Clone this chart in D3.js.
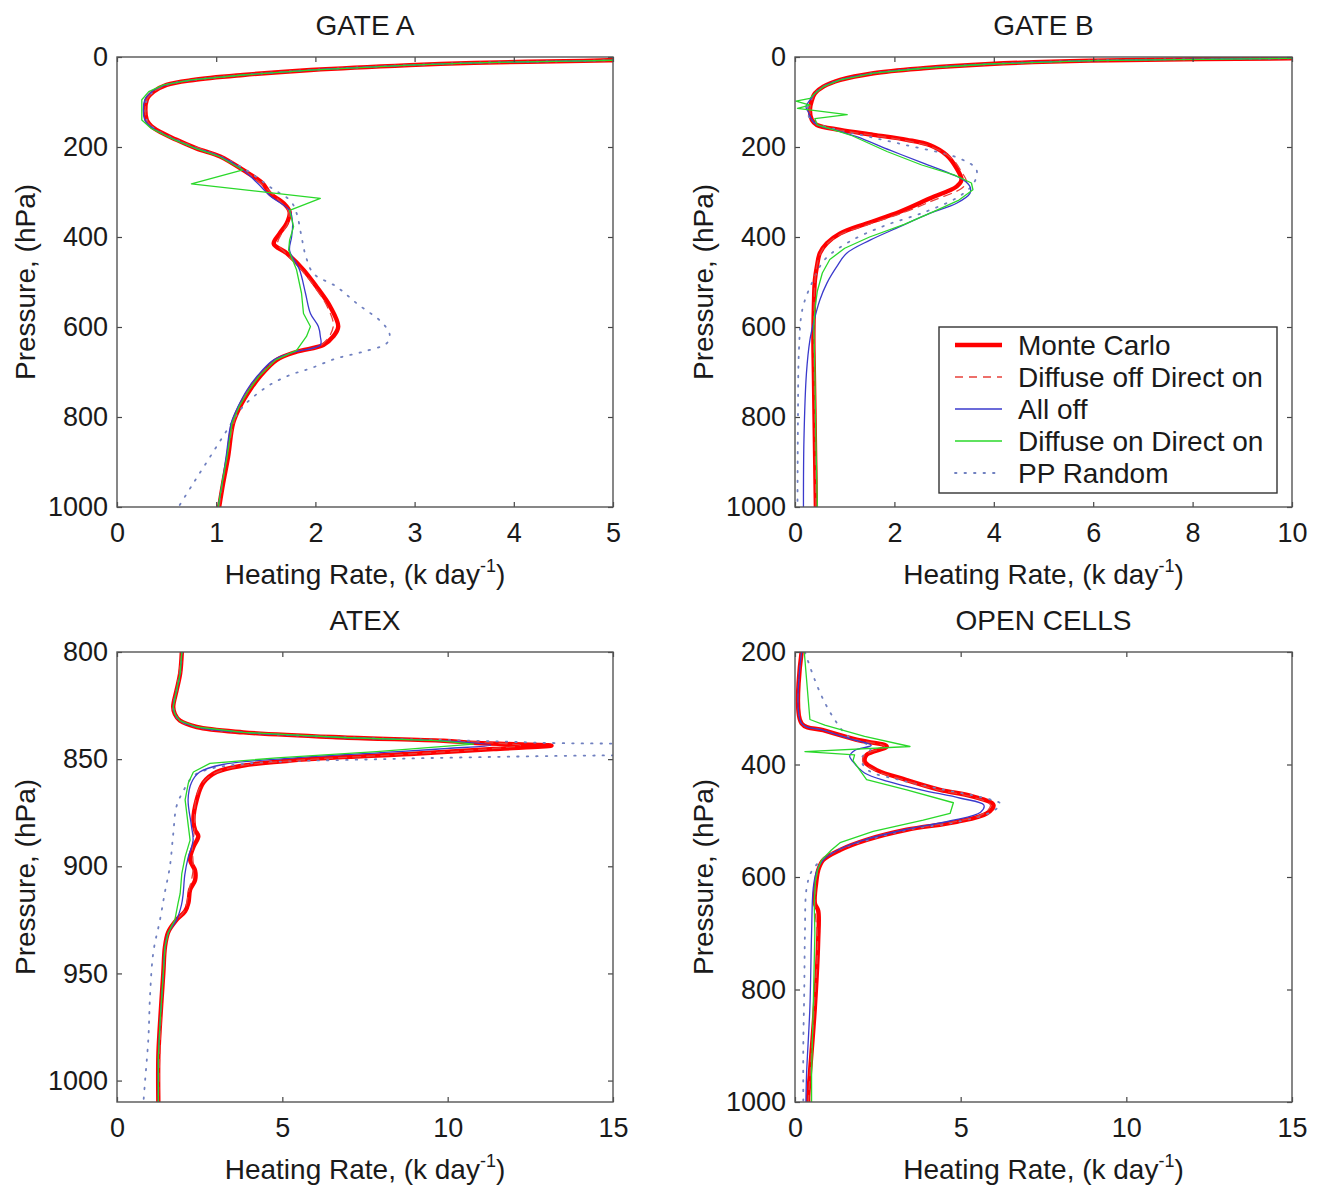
<!DOCTYPE html>
<html><head><meta charset="utf-8">
<script src="https://cdn.jsdelivr.net/npm/d3@7"></script>
<style>body{margin:0;background:#fff}text{font-family:"Liberation Sans",Arial,Helvetica,sans-serif;fill:#1a1a1a}</style>
</head><body>
<svg id="chart" width="1321" height="1188"></svg>
<script>
// ---------- DATA: each point is [pressure (hPa), heating rate (K/day)] ----------
const seriesNames = ["Monte Carlo", "Diffuse off Direct on", "All off", "Diffuse on Direct on", "PP Random"];
const panelTitles = ["GATE A", "GATE B", "ATEX", "OPEN CELLS"];

const gateA_xTicks = [0, 1, 2, 3, 4, 5];
const gateA_yTicks = [0, 200, 400, 600, 800, 1000];
const gateB_xTicks = [0, 2, 4, 6, 8, 10];
const gateB_yTicks = [0, 200, 400, 600, 800, 1000];
const atex_xTicks = [0, 5, 10, 15];
const atex_yTicks = [800, 850, 900, 950, 1000];
const open_xTicks = [0, 5, 10, 15];
const open_yTicks = [200, 400, 600, 800, 1000];

const gateA_monteCarlo = [[1,7.5],[6,5.3],[8.5,4.7],[13,3.6],[18,2.95],[29,1.95],[40,1.27],[51,0.77],[62,0.50],[77,0.37],[95,0.30],[140,0.30],[158,0.37],[184,0.60],[203,0.80],[221,1.04],[251,1.27],[281,1.47],[303,1.54],[325,1.68],[344,1.74],[370,1.71],[392,1.64],[415,1.58],[436,1.71],[473,1.88],[510,2.01],[555,2.15],[599,2.23],[621,2.18],[640,2.08],[655,1.81],[673,1.61],[710,1.44],[740,1.34],[777,1.24],[814,1.17],[888,1.12],[947,1.07],[1000,1.03]];
const gateA_diffOffDirOn = [[1,7.5],[8.5,4.7],[18,2.95],[29,1.95],[40,1.27],[51,0.77],[62,0.50],[77,0.37],[95,0.30],[140,0.30],[158,0.37],[184,0.60],[221,1.04],[251,1.27],[281,1.45],[325,1.66],[344,1.73],[370,1.72],[392,1.66],[415,1.62],[436,1.70],[473,1.86],[510,1.99],[555,2.12],[599,2.18],[640,2.06],[655,1.80],[673,1.60],[710,1.43],[777,1.23],[888,1.11],[1000,1.03]];
const gateA_allOff = [[1,7.5],[6,5.3],[8.5,4.7],[13,3.6],[18,2.95],[29,1.95],[40,1.27],[51,0.77],[62,0.49],[77,0.35],[95,0.28],[140,0.28],[158,0.36],[184,0.59],[203,0.80],[221,1.04],[251,1.27],[281,1.42],[310,1.55],[341,1.74],[370,1.77],[400,1.76],[430,1.74],[473,1.84],[525,1.90],[570,1.95],[599,2.03],[621,2.05],[640,2.05],[655,1.80],[673,1.58],[710,1.41],[740,1.31],[777,1.22],[814,1.15],[888,1.10],[947,1.06],[1000,1.02]];
const gateA_diffOnDirOn = [[1,7.5],[6,5.3],[8.5,4.7],[13,3.6],[18,2.95],[29,1.95],[40,1.27],[51,0.75],[62,0.47],[77,0.32],[95,0.25],[140,0.25],[158,0.34],[184,0.58],[203,0.79],[221,1.03],[251,1.27],[282,0.75],[314,2.05],[341,1.74],[377,1.78],[407,1.74],[429,1.73],[473,1.81],[525,1.86],[570,1.88],[599,1.95],[621,1.91],[652,1.81],[673,1.60],[710,1.43],[740,1.33],[777,1.23],[814,1.16],[888,1.11],[947,1.06],[1000,1.02]];
const gateA_ppRandom = [[1,7.5],[6,5.3],[8.5,4.7],[13,3.6],[18,2.95],[29,1.95],[40,1.27],[51,0.77],[62,0.50],[77,0.37],[95,0.30],[140,0.30],[158,0.37],[184,0.60],[203,0.80],[221,1.04],[251,1.30],[290,1.55],[320,1.75],[347,1.81],[399,1.86],[440,1.90],[481,1.98],[510,2.21],[548,2.42],[592,2.68],[618,2.75],[636,2.72],[655,2.48],[670,2.21],[692,1.95],[707,1.74],[733,1.51],[777,1.27],[829,1.11],[888,0.94],[947,0.77],[1000,0.62]];

const gateB_monteCarlo = [[0.5,13],[3,9.96],[8,5.94],[15.6,3.92],[25,2.58],[36,1.58],[51,0.91],[66,0.57],[81,0.40],[96,0.34],[118,0.30],[140,0.34],[151,0.44],[162,0.91],[173,1.58],[184,2.25],[196,2.72],[218,3.05],[247,3.25],[273,3.35],[288,3.25],[314,2.72],[344,2.11],[370,1.44],[392,0.91],[414,0.64],[436,0.50],[466,0.44],[496,0.40],[555,0.38],[629,0.37],[703,0.38],[851,0.40],[1000,0.42]];
const gateB_diffOffDirOn = [[0.5,13],[3,9.96],[8,5.94],[15.6,3.92],[25,2.58],[36,1.58],[51,0.91],[66,0.57],[81,0.40],[96,0.34],[118,0.30],[140,0.34],[151,0.44],[162,0.88],[173,1.50],[184,2.15],[200,2.75],[225,3.15],[255,3.35],[278,3.45],[292,3.35],[318,2.8],[347,2.15],[373,1.45],[395,0.90],[418,0.62],[440,0.50],[470,0.43],[500,0.40],[600,0.38],[800,0.40],[1000,0.42]];
const gateB_allOff = [[0.5,13],[3,9.96],[8,5.94],[15.6,3.92],[25,2.58],[36,1.58],[51,0.91],[66,0.57],[81,0.40],[96,0.30],[110,0.22],[125,0.28],[140,0.34],[151,0.45],[162,0.80],[177,1.24],[207,1.91],[236,2.58],[259,3.12],[273,3.39],[288,3.52],[303,3.52],[325,3.25],[347,2.72],[377,2.11],[407,1.51],[436,1.04],[466,0.84],[503,0.64],[540,0.50],[592,0.37],[629,0.30],[703,0.23],[851,0.18],[1000,0.17]];
const gateB_diffOnDirOn = [[0.5,13],[3,9.96],[8,5.94],[15.6,3.92],[25,2.58],[36,1.58],[51,0.91],[66,0.57],[81,0.40],[92,0.30],[98,0.02],[107,0.30],[114,0.05],[128,1.05],[137,0.40],[151,0.45],[162,0.78],[175,1.15],[210,1.85],[240,2.55],[262,3.2],[280,3.55],[295,3.58],[318,3.3],[343,2.8],[372,2.2],[400,1.5],[425,1.0],[450,0.7],[480,0.55],[520,0.45],[560,0.40],[600,0.38],[700,0.40],[850,0.42],[1000,0.45]];
const gateB_ppRandom = [[0.5,13],[3,9.96],[8,5.94],[15.6,3.92],[25,2.58],[36,1.58],[51,0.91],[66,0.57],[81,0.40],[96,0.32],[118,0.25],[140,0.32],[151,0.50],[170,1.2],[195,2.2],[225,3.3],[250,3.65],[280,3.6],[310,3.3],[345,2.6],[375,1.8],[410,1.1],[450,0.6],[500,0.35],[560,0.15],[650,0.08],[800,0.06],[1000,0.05]];

const atex_monteCarlo = [[800,1.96],[810,1.91],[818,1.80],[825.6,1.70],[829,1.75],[832,1.90],[835,2.41],[837.5,3.82],[839.9,6.84],[841.4,9.87],[842.5,10.88],[843.7,13.14],[845.3,11.38],[847.6,8.86],[850,5.83],[853,3.82],[856,3.01],[861,2.61],[869,2.41],[878.5,2.31],[883,2.36],[886,2.46],[891,2.31],[897,2.21],[902,2.36],[906.5,2.36],[911,2.21],[917,2.16],[921,2.06],[925,1.80],[930.7,1.55],[937.7,1.45],[950,1.40],[973.5,1.30],[989,1.25],[1010,1.25]];
const atex_diffOffDirOn = [[800,1.96],[818,1.80],[825.6,1.70],[832,1.90],[835,2.41],[837.5,3.82],[839.9,6.84],[841.4,9.87],[843.6,12.2],[845.5,11.0],[847.8,8.6],[850.5,5.5],[853.5,3.6],[857,2.9],[862,2.55],[869,2.38],[883,2.34],[891,2.28],[902,2.30],[911,2.18],[921,2.03],[925,1.80],[931,1.55],[950,1.40],[1010,1.25]];
const atex_allOff = [[800,1.96],[810,1.91],[818,1.80],[825.6,1.70],[829,1.75],[832,1.90],[835,2.41],[837.5,3.82],[839.9,6.84],[841.4,9.80],[843.5,11.3],[845,10.0],[846.5,8.5],[849.5,5.3],[852.5,3.2],[856,2.5],[861,2.25],[869,2.15],[881,2.25],[888,2.3],[896,2.15],[904,2.05],[913,2.0],[918,1.95],[925,1.8],[931,1.55],[937.7,1.45],[950,1.40],[973.5,1.30],[989,1.25],[1010,1.25]];
const atex_diffOnDirOn = [[800,1.96],[810,1.91],[818,1.80],[825.6,1.70],[829,1.75],[832,1.90],[835,2.41],[837.5,3.82],[839.9,6.84],[841.4,9.70],[843,10.78],[844.5,9.5],[846.5,7.85],[849.4,4.83],[852,2.81],[856,2.31],[861,2.16],[869,2.06],[881.6,2.16],[887.8,2.21],[895.6,2.06],[903.4,1.96],[912.7,1.91],[917,1.85],[925,1.75],[931,1.55],[937.7,1.45],[950,1.40],[973.5,1.30],[989,1.25],[1010,1.25]];
const atex_ppRandom = [[800,1.96],[810,1.91],[818,1.80],[825.6,1.70],[829,1.75],[832,1.90],[835,2.41],[837.5,3.82],[839.9,7.0],[841.5,11.0],[842.5,13.3],[842.8,16],[843.5,22],[847,22],[848.1,16],[848.5,13.3],[850,8],[852,4],[855,2.7],[858,2.3],[865,2.0],[872,1.8],[885,1.7],[900,1.6],[912,1.45],[925,1.3],[940,1.1],[960,1.0],[980,0.95],[1000,0.85],[1010,0.8]];

const open_monteCarlo = [[200,0.20],[327,0.20],[339,0.85],[356,1.86],[368,2.77],[383,2.16],[395,2.11],[410,2.47],[427.6,3.37],[445,4.38],[457,5.38],[472,5.99],[487,5.79],[502,4.88],[516,3.37],[534,2.16],[552,1.36],[570,0.85],[588,0.70],[605,0.65],[647,0.60],[660,0.70],[712,0.70],[831,0.60],[949,0.45],[990,0.40],[1000,0.40]];
const open_diffOffDirOn = [[200,0.2],[327,0.2],[339,0.85],[356,1.8],[368,2.7],[383,2.1],[395,2.05],[410,2.4],[428,3.3],[445,4.3],[457,5.3],[472,5.9],[487,5.7],[502,4.8],[516,3.3],[534,2.1],[552,1.33],[570,0.83],[590,0.68],[650,0.6],[712,0.68],[831,0.58],[1000,0.4]];
const open_allOff = [[200,0.2],[327,0.2],[339,0.85],[355,1.7],[366,2.3],[375,1.8],[385,1.65],[395,1.75],[415,2.1],[430,2.8],[445,3.8],[460,5.0],[472,5.7],[485,5.6],[500,4.7],[516,3.3],[534,2.1],[552,1.3],[570,0.85],[590,0.65],[620,0.55],[700,0.5],[831,0.45],[949,0.35],[1000,0.33]];
const open_diffOnDirOn = [[200,0.28],[320,0.45],[330,0.9],[350,2.1],[368,3.47],[377,0.3],[383,1.8],[393,1.75],[427,2.16],[445,3.37],[468,4.78],[487,4.68],[499,3.87],[519,2.36],[539,1.36],[552,1.1],[570,0.8],[588,0.68],[605,0.62],[647,0.58],[700,0.6],[831,0.55],[949,0.5],[1000,0.5]];
const open_ppRandom = [[200,0.3],[250,0.6],[290,0.9],[325,1.25],[350,1.6],[370,2.3],[390,2.0],[410,2.2],[428,3.2],[445,4.5],[458,5.6],[470,6.2],[485,5.9],[502,4.9],[516,3.4],[534,2.2],[552,1.3],[570,0.8],[590,0.5],[620,0.35],[700,0.3],[800,0.28],[900,0.25],[1000,0.25]];

// ---------- LAYOUT ----------
const layout = [
  {left:117, top:57,  width:496, height:450, xDomain:[0,5],  yDomain:[0,1000]},
  {left:795, top:57,  width:497, height:450, xDomain:[0,10], yDomain:[0,1000]},
  {left:117, top:652, width:496, height:450, xDomain:[0,15], yDomain:[800,1010]},
  {left:795, top:652, width:497, height:450, xDomain:[0,15], yDomain:[200,1000]}
];
const panelData = [
  {xTicks:gateA_xTicks, yTicks:gateA_yTicks, series:[gateA_monteCarlo, gateA_diffOffDirOn, gateA_allOff, gateA_diffOnDirOn, gateA_ppRandom]},
  {xTicks:gateB_xTicks, yTicks:gateB_yTicks, series:[gateB_monteCarlo, gateB_diffOffDirOn, gateB_allOff, gateB_diffOnDirOn, gateB_ppRandom]},
  {xTicks:atex_xTicks,  yTicks:atex_yTicks,  series:[atex_monteCarlo, atex_diffOffDirOn, atex_allOff, atex_diffOnDirOn, atex_ppRandom]},
  {xTicks:open_xTicks,  yTicks:open_yTicks,  series:[open_monteCarlo, open_diffOffDirOn, open_allOff, open_diffOnDirOn, open_ppRandom]}
];
const styles = [
  {color:"#ff0000", width:4.4, dash:null,    smooth:true},
  {color:"#e8403a", width:1.3, dash:"8,6",   smooth:true},
  {color:"#3a3acc", width:1.3, dash:null,    smooth:true},
  {color:"#2ad82a", width:1.3, dash:null,    smooth:false},
  {color:"#7080c0", width:1.8, dash:"1.5,8", smooth:true}
];
const drawOrder = [0, 4, 1, 2, 3];
const FS = 28, TFS = 27;

const svg = d3.select("#chart");
const defs = svg.append("defs");

layout.forEach((L, i) => {
  const P = panelData[i];
  const x = d3.scaleLinear().domain(L.xDomain).range([L.left, L.left + L.width]);
  const y = d3.scaleLinear().domain(L.yDomain).range([L.top, L.top + L.height]);
  const g = svg.append("g");

  defs.append("clipPath").attr("id", "clip" + i).append("rect")
    .attr("x", L.left).attr("y", L.top).attr("width", L.width).attr("height", L.height);

  g.append("text").attr("x", L.left + L.width / 2).attr("y", L.top - 22)
    .attr("text-anchor", "middle").style("font-size", FS + "px").text(panelTitles[i]);

  const cg = g.append("g").attr("clip-path", "url(#clip" + i + ")");
  drawOrder.forEach(k => {
    const s = styles[k];
    const line = d3.line().x(d => x(d[1])).y(d => y(d[0]))
      .curve(s.smooth ? d3.curveCatmullRom.alpha(0.5) : d3.curveLinear);
    cg.append("path").datum(P.series[k]).attr("d", line)
      .attr("fill", "none").attr("stroke", s.color).attr("stroke-width", s.width)
      .attr("stroke-linejoin", "round").attr("stroke-linecap", "round")
      .attr("stroke-dasharray", s.dash);
  });

  const styleAxis = (sel) => {
    sel.select(".domain").remove();
    sel.selectAll(".tick line").attr("stroke", "#444").attr("stroke-width", 1.2);
    sel.selectAll(".tick text").style("font-size", TFS + "px").attr("fill", "#1a1a1a")
      .style("font-family", '"Liberation Sans", Arial, sans-serif');
  };
  g.append("g").attr("transform", `translate(0,${L.top + L.height})`)
    .call(d3.axisBottom(x).tickValues(P.xTicks).tickSize(-5).tickPadding(16).tickFormat(d3.format("d")))
    .call(styleAxis);
  g.append("g").attr("transform", `translate(0,${L.top})`)
    .call(d3.axisTop(x).tickValues(P.xTicks).tickSize(-5).tickFormat(""))
    .call(styleAxis);
  g.append("g").attr("transform", `translate(${L.left},0)`)
    .call(d3.axisLeft(y).tickValues(P.yTicks).tickSize(-5).tickPadding(9).tickFormat(d3.format("d")))
    .call(styleAxis);
  g.append("g").attr("transform", `translate(${L.left + L.width},0)`)
    .call(d3.axisRight(y).tickValues(P.yTicks).tickSize(-5).tickFormat(""))
    .call(styleAxis);

  g.append("rect").attr("x", L.left).attr("y", L.top).attr("width", L.width).attr("height", L.height)
    .attr("fill", "none").attr("stroke", "#555").attr("stroke-width", 1.4);

  const xl = g.append("text").attr("x", L.left + L.width / 2).attr("y", L.top + L.height + 77)
    .attr("text-anchor", "middle").style("font-size", FS + "px");
  xl.append("tspan").text("Heating Rate, (k day");
  xl.append("tspan").attr("dy", -12).style("font-size", "18px").text("-1");
  xl.append("tspan").attr("dy", 12).text(")");

  g.append("text").attr("transform", `translate(${L.left - 82},${L.top + L.height / 2}) rotate(-90)`)
    .attr("text-anchor", "middle").style("font-size", FS + "px").text("Pressure, (hPa)");
});

const lg = svg.append("g");
lg.append("rect").attr("x", 939).attr("y", 327).attr("width", 338).attr("height", 166)
  .attr("fill", "#fff").attr("stroke", "#333").attr("stroke-width", 1.4);
seriesNames.forEach((name, k) => {
  const yy = 345 + k * 32;
  const s = styles[k];
  lg.append("line").attr("x1", 955).attr("x2", 1002).attr("y1", yy).attr("y2", yy)
    .attr("stroke", s.color).attr("stroke-width", s.width).attr("stroke-dasharray", s.dash)
    .attr("stroke-linecap", k === 4 ? "round" : "butt");
  lg.append("text").attr("x", 1018).attr("y", yy).attr("dy", "0.36em")
    .style("font-size", FS + "px").text(name);
});
</script>
</body></html>
